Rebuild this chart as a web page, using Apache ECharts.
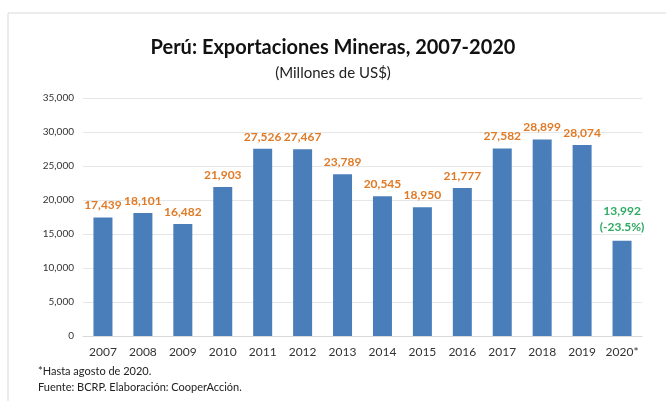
<!DOCTYPE html>
<html><head><meta charset="utf-8">
<script src="https://cdn.jsdelivr.net/npm/echarts@6/dist/echarts.min.js"></script>
<style>html,body{margin:0;padding:0;background:#fff}#c{width:666px;height:401px}</style>
</head><body><div id="c"></div>
<script>
const years = ['2007','2008','2009','2010','2011','2012','2013','2014','2015','2016','2017','2018','2019','2020*'];
const values = [17439,18101,16482,21903,27526,27467,23789,20545,18950,21777,27582,28899,28074,13992];
const lastChange = '(-23.5%)';
const yTicks = {min:0, max:35000, interval:5000};

const fmt = v => v.toLocaleString('en-US');
const F = 'Lato, "Open Sans", sans-serif';
const chart = echarts.init(document.getElementById('c'), null, {renderer:'canvas'});
chart.setOption({
  animation:false,
  backgroundColor:'#fff',
  graphic:[
    {type:'polyline', shape:{points:[[8,401],[8,13],[666,13]]}, style:{stroke:'#d9d9d9', lineWidth:1, fill:null}},
    {type:'text', left:38, top:366, style:{text:'*Hasta agosto de 2020.', font:'11px '+F, fill:'#222'}},
    {type:'text', left:38, top:382, style:{text:'Fuente: BCRP. Elaboración: CooperAcción.', font:'11px '+F, fill:'#222'}}
  ],
  title:{
    text:'Perú: Exportaciones Mineras, 2007-2020',
    subtext:'(Millones de US$)',
    left:'center', top:33, itemGap:8,
    textStyle:{fontFamily:F, fontSize:20, fontWeight:'bold', color:'#111'},
    subtextStyle:{fontFamily:F, fontSize:15, color:'#222'}
  },
  grid:{left:83, right:24, top:98, bottom:65, containLabel:false},
  xAxis:{
    type:'category', data:years,
    axisLine:{lineStyle:{color:'#d9d9d9'}},
    axisTick:{show:false},
    axisLabel:{color:'#333', fontFamily:F, fontSize:12, margin:10, interval:0}
  },
  yAxis:{
    type:'value', min:yTicks.min, max:yTicks.max, interval:yTicks.interval,
    axisLine:{show:false}, axisTick:{show:false},
    splitLine:{lineStyle:{color:'#e6e6e6'}},
    axisLabel:{color:'#333', fontFamily:F, fontSize:10, margin:9, formatter:v=>fmt(v)}
  },
  series:[{
    type:'bar', barWidth:19,
    itemStyle:{color:'#4a7ebb'},
    data: values.map((v,i)=>{
      const last = i===values.length-1;
      return {value:v, label:{
        show:true, position:'top', distance: last?6:4,
        fontFamily:F, fontSize:12, fontWeight:'bold', lineHeight:16,
        color: last ? '#2eaa62' : '#e07a26',
        formatter: last ? fmt(v)+'\n'+lastChange : fmt(v)
      }};
    })
  }]
});
</script></body></html>
